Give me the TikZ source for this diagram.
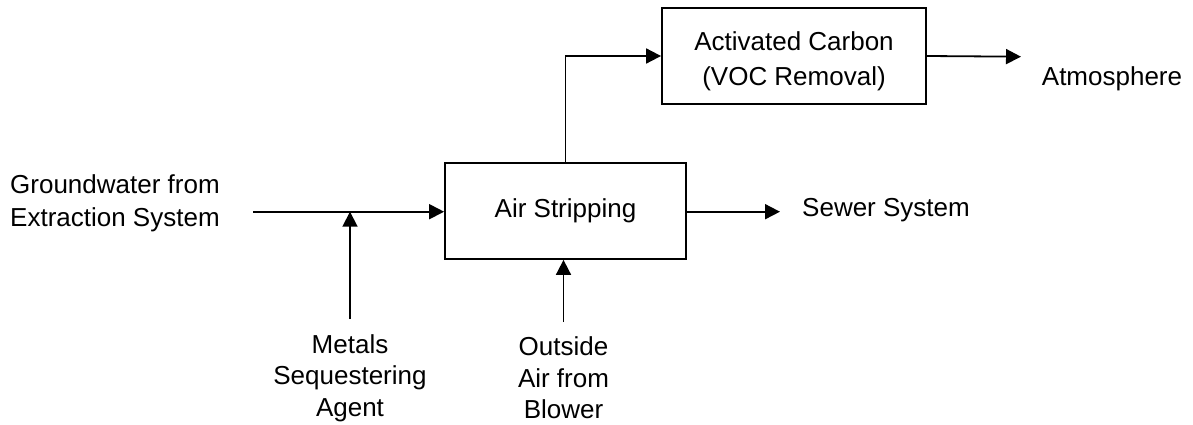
\documentclass[tikz,border=0pt]{standalone}
\usepackage{fontspec}
\setmainfont{Liberation Sans}
\usetikzlibrary{arrows.meta}
\begin{document}
\begin{tikzpicture}[x=1pt,y=-1pt,
  box/.style={draw=black,line width=1.8pt,minimum width=#1,minimum height=96pt,inner sep=0pt,align=center,
    font=\fontsize{26}{35}\selectfont},
  lbl/.style={inner sep=0pt,font=\fontsize{26}{31.5}\selectfont},
  flow/.style={line width=1.8pt,-{Triangle[length=15pt,width=15pt]}}]
\useasboundingbox (0,0) rectangle (1193,425);
\node[box=241pt] (as) at (565.5,211) {Air Stripping};
\node[box=264pt] (ac) at (794,56) {\raisebox{-5pt}[\height][\depth]{\begin{tabular}{@{}c@{}}Activated Carbon\\(VOC Removal)\end{tabular}}};
\node[lbl,align=left,anchor=west,font=\fontsize{26}{33}\selectfont] (gw) at (10,203) {Groundwater from\\Extraction System};
\node[lbl] (atm) at (1112,79) {Atmosphere};
\node[lbl] (sew) at (886,210) {Sewer System};
\node[lbl,align=center] (met) at (350,378) {Metals\\Sequestering\\Agent};
\node[lbl,align=center] (oa) at (563.5,378) {Outside\\Air from\\Blower};
\coordinate (gs) at (253,211.7);
\coordinate (j) at (350,211.7);
\coordinate (m0) at (350,319);
\coordinate (o0) at (563.5,322);
\coordinate (atme) at (1021,56.7);
\coordinate (sewe) at (780,211.7);
\draw[flow] (gs) -- (as.west |- gs);
\draw[flow] (m0) -- (j);
\draw[flow] (o0) -- (o0 |- as.south);
\draw[flow] (as.north) |- (ac.west);
\draw[flow] (ac.east) -- (atme);
\draw[flow] (as.east |- sewe) -- (sewe);
\end{tikzpicture}
\end{document}
